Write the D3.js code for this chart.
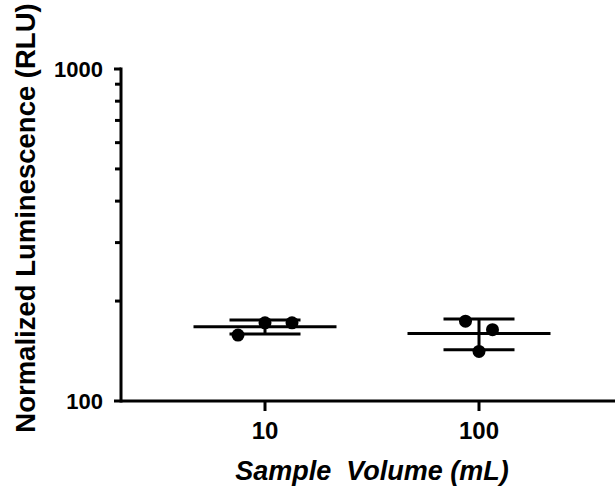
<!DOCTYPE html>
<html>
<head>
<meta charset="utf-8">
<script src="https://cdn.jsdelivr.net/npm/d3@7"></script>
<style>
  body { margin: 0; background: #fff; }
  text { font-family: "Liberation Sans", Arial, sans-serif; font-weight: bold; fill: #000; }
</style>
</head>
<body>
<div id="chart"></div>
<script>
// categorias (volumen de muestra, mL)
var categories = ["10", "100"];
// replicados por categoria
var values10 = [158, 172, 172];
var values100 = [174, 164, 141];
// desplazamiento horizontal de cada punto (fraccion del jitter)
var jitter10 = [-1, 0, 1];
var jitter100 = [-0.5, 0.5, 0];
var yTicks = [100, 1000];

var width = 615, height = 493;
var margin = {top: 69, right: 0, bottom: 92, left: 121};

var svg = d3.select("#chart").append("svg")
    .attr("width", width)
    .attr("height", height);

var x = d3.scalePoint()
    .domain(categories)
    .range([265, 479]);

var y = d3.scaleLog()
    .domain([100, 1000])
    .range([height - margin.bottom, margin.top]);

var groups = [
    {cat: "10", vals: values10, jit: jitter10},
    {cat: "100", vals: values100, jit: jitter100}
];
groups.forEach(function(g) {
    g.mean = d3.mean(g.vals);
    g.sd = d3.deviation(g.vals);
});

// eje Y
var yAxis = svg.append("g")
    .attr("transform", "translate(" + margin.left + ",0)");
yAxis.append("line")
    .attr("x1", 0).attr("x2", 0)
    .attr("y1", y(1000) - 1.5).attr("y2", y(100) + 1.5)
    .attr("stroke", "#000").attr("stroke-width", 3);
var minor = d3.range(200, 1000, 100);
yAxis.selectAll(".minor").data(minor).enter().append("line")
    .attr("x1", -6).attr("x2", 0)
    .attr("y1", d => y(d)).attr("y2", d => y(d))
    .attr("stroke", "#000").attr("stroke-width", 3);
yAxis.selectAll(".major").data(yTicks).enter().append("line")
    .attr("x1", -7).attr("x2", 0)
    .attr("y1", d => y(d)).attr("y2", d => y(d))
    .attr("stroke", "#000").attr("stroke-width", 3);
yAxis.selectAll(".lab").data(yTicks).enter().append("text")
    .attr("x", -18).attr("y", d => y(d))
    .attr("dy", "0.36em")
    .attr("text-anchor", "end")
    .style("font-size", "22px")
    .text(d => d);

// eje X
var xAxis = svg.append("g")
    .attr("transform", "translate(0," + y(100) + ")");
xAxis.append("line")
    .attr("x1", margin.left).attr("x2", width)
    .attr("stroke", "#000").attr("stroke-width", 3);
xAxis.selectAll(".tick").data(categories).enter().append("line")
    .attr("x1", d => x(d)).attr("x2", d => x(d))
    .attr("y1", 0).attr("y2", 10)
    .attr("stroke", "#000").attr("stroke-width", 3);
xAxis.selectAll(".lab").data(categories).enter().append("text")
    .attr("x", d => x(d)).attr("y", 38)
    .attr("text-anchor", "middle")
    .style("font-size", "24px")
    .text(d => d);

// titulos
svg.append("text")
    .attr("x", 372).attr("y", 480)
    .attr("text-anchor", "middle")
    .style("font-size", "27px")
    .style("font-style", "italic")
    .attr("xml:space", "preserve")
    .text("Sample  Volume (mL)");
svg.append("text")
    .attr("transform", "translate(35,218) rotate(-90)")
    .attr("text-anchor", "middle")
    .style("font-size", "27.5px")
    .text("Normalized Luminescence (RLU)");

// media y barras de error
var plot = svg.append("g");
groups.forEach(function(g) {
    var cx = x(g.cat);
    plot.append("line")
        .attr("x1", cx - 71.5).attr("x2", cx + 71.5)
        .attr("y1", y(g.mean)).attr("y2", y(g.mean))
        .attr("stroke", "#000").attr("stroke-width", 3);
    plot.append("line")
        .attr("x1", cx).attr("x2", cx)
        .attr("y1", y(g.mean + g.sd)).attr("y2", y(g.mean - g.sd))
        .attr("stroke", "#000").attr("stroke-width", 3);
    [g.mean + g.sd, g.mean - g.sd].forEach(function(v) {
        plot.append("line")
            .attr("x1", cx - 35.5).attr("x2", cx + 35.5)
            .attr("y1", y(v)).attr("y2", y(v))
            .attr("stroke", "#000").attr("stroke-width", 3);
    });
    plot.selectAll(null).data(g.vals).enter().append("circle")
        .attr("cx", (d, i) => cx + g.jit[i] * 27)
        .attr("cy", d => y(d))
        .attr("r", 6.5)
        .attr("fill", "#000");
});
</script>
</body>
</html>
